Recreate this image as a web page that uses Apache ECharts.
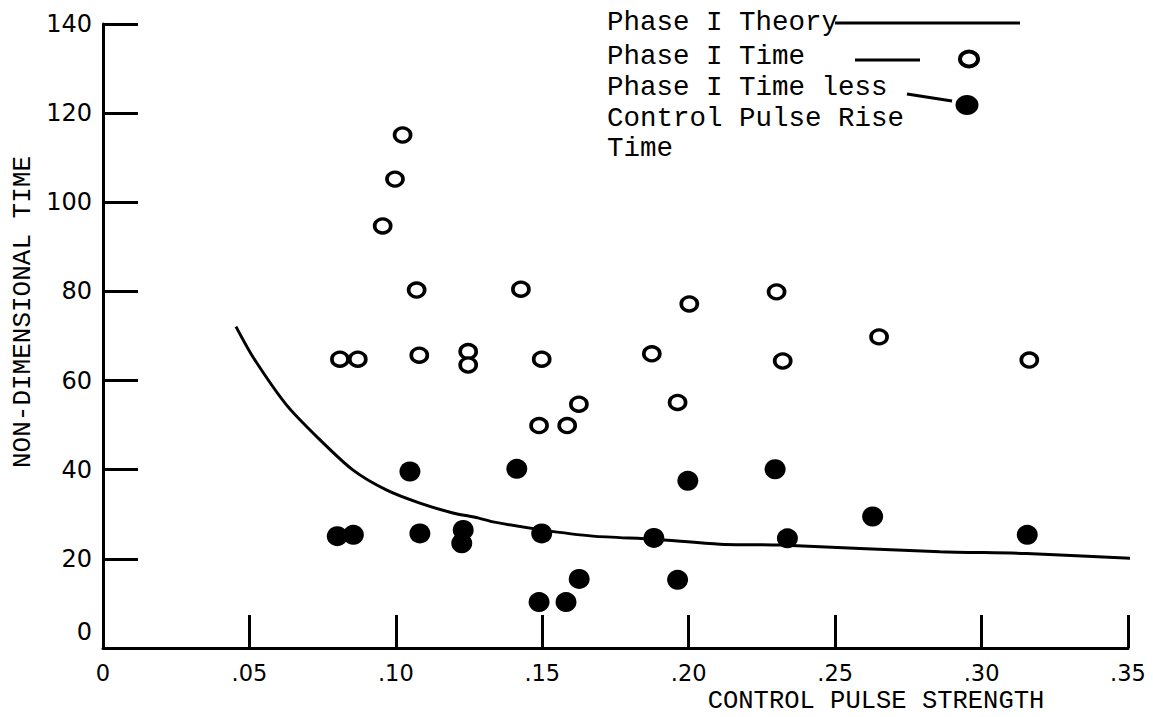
<!DOCTYPE html>
<html>
<head>
<meta charset="utf-8">
<title>Non-dimensional time vs control pulse strength</title>
<script src="https://cdn.jsdelivr.net/npm/echarts@6.0.0/dist/echarts.min.js"></script>
<style>
html, body { margin: 0; padding: 0; background: #fff; }
#chart { width: 1153px; height: 717px; }
</style>
</head>
<body>
<div id="chart"></div>
<script>

// tick labels
let xTickLabels = ['0', '.05', '.10', '.15', '.20', '.25', '.30', '.35'];
let yTickLabels = ['0', '20', '40', '60', '80', '100', '120', '140'];

// Phase I Time (open circles)
let timeX = [0.0809, 0.0870, 0.0955, 0.0997, 0.1023, 0.1071, 0.1080, 0.1247, 0.1247, 0.1427, 0.1498,
             0.1489, 0.1585, 0.1625, 0.1874, 0.1962, 0.2002, 0.2300, 0.2321, 0.2650, 0.3163];
let timeY = [64.8, 64.8, 94.7, 105.2, 115.1, 80.3, 65.7, 66.5, 63.5, 80.5, 64.8,
             49.9, 49.9, 54.7, 66.0, 55.1, 77.2, 79.9, 64.4, 69.8, 64.6];

// Phase I Time less Control Pulse Rise Time (filled circles)
let lessX = [0.0800, 0.0855, 0.1048, 0.1082, 0.1230, 0.1225, 0.1413, 0.1498, 0.1489, 0.1581,
             0.1626, 0.1881, 0.1962, 0.1997, 0.2295, 0.2337, 0.2628, 0.3156];
let lessY = [25.1, 25.4, 39.6, 25.7, 26.5, 23.5, 40.2, 25.7, 10.3, 10.3,
             15.5, 24.7, 15.3, 37.5, 40.1, 24.6, 29.5, 25.4];

// Phase I Theory curve
let theoryX = [0.0454, 0.0512, 0.0627, 0.0741, 0.0854, 0.0969, 0.1082, 0.1195, 0.1280, 0.1332,
               0.1498, 0.1673, 0.1881, 0.2106, 0.2312, 0.2858, 0.3154, 0.3524];
let theoryY = [72.1, 65.3, 54.5, 46.7, 39.9, 35.4, 32.5, 30.3, 29.2, 28.3,
               26.5, 25.1, 24.4, 23.3, 23.1, 21.6, 21.2, 20.1];

let seriesNames = ['Phase I Theory', 'Phase I Time', 'Phase I Time less Control Pulse Rise Time'];

function pairUp(xs, ys) {
    let out = [];
    for (let i = 0; i < xs.length; i++) {
        out.push([xs[i], ys[i]]);
    }
    return out;
}

let typeFont = '"Liberation Mono", monospace';
let numFont = '"DejaVu Sans", sans-serif';

function legendGraphics() {
    // hand-lettered legend in the upper right
    let lines = ['Phase I Theory', 'Phase I Time', 'Phase I Time less', 'Control Pulse Rise', 'Time'];
    let ys = [23, 57, 88, 119, 149];
    let g = [];
    for (let i = 0; i < lines.length; i++) {
        g.push({
            type: 'text',
            left: 607,
            top: ys[i] - 15,
            style: { text: lines[i], font: '27.5px ' + typeFont, fill: '#000' }
        });
    }
    g.push({ type: 'line', shape: { x1: 835, y1: 23, x2: 1020, y2: 23 }, style: { stroke: '#000', lineWidth: 3 } });
    g.push({ type: 'line', shape: { x1: 855, y1: 60, x2: 920, y2: 60 }, style: { stroke: '#000', lineWidth: 3 } });
    g.push({ type: 'ellipse', shape: { cx: 969, cy: 59, rx: 9, ry: 7.5 }, style: { fill: '#fff', stroke: '#000', lineWidth: 4 } });
    g.push({ type: 'line', shape: { x1: 907, y1: 94, x2: 952, y2: 101 }, style: { stroke: '#000', lineWidth: 3 } });
    g.push({ type: 'ellipse', shape: { cx: 967, cy: 105, rx: 11.5, ry: 10 }, style: { fill: '#000' } });
    return g;
}

function printChart(chartID) {
    let myChart = echarts.init(document.getElementById(chartID), null, { renderer: 'svg' });

    let option = {
        backgroundColor: '#fff',
        animation: false,
        grid: { left: 103, right: 25, top: 24, bottom: 69, containLabel: false, outerBoundsMode: 'none' },
        xAxis: {
            type: 'value',
            min: 0,
            max: 0.35,
            interval: 0.05,
            name: 'CONTROL PULSE STRENGTH',
            nameLocation: 'middle',
            nameGap: 40,
            nameMoveOverlap: false,
            nameTextStyle: { fontFamily: typeFont, fontSize: 25.5, lineHeight: 26, color: '#000', padding: [0, 0, 0, 521] },
            axisLine: { onZero: false, lineStyle: { color: '#000', width: 3 } },
            axisTick: { inside: true, length: 33, lineStyle: { color: '#000', width: 3 } },
            axisLabel: {
                margin: 14,
                color: '#000',
                fontFamily: numFont,
                fontSize: 22.5,
                lineHeight: 22,
                formatter: function (v) { return xTickLabels[Math.round(v / 0.05)]; }
            },
            splitLine: { show: false }
        },
        yAxis: {
            type: 'value',
            min: 0,
            max: 140,
            interval: 20,
            name: 'NON-DIMENSIONAL TIME',
            nameLocation: 'middle',
            nameGap: 67,
            nameMoveOverlap: false,
            nameTextStyle: { fontFamily: typeFont, fontSize: 26, color: '#000', padding: [0, 0, 0, 48] },
            axisLine: { onZero: false, lineStyle: { color: '#000', width: 3 } },
            axisTick: { inside: true, length: 35, lineStyle: { color: '#000', width: 3 } },
            axisLabel: {
                margin: 11,
                color: '#000',
                fontFamily: numFont,
                fontSize: 24,
                formatter: function (v) {
                    let s = yTickLabels[Math.round(v / 20)];
                    return v === 0 ? '{z|' + s + '}' : s;
                },
                rich: { z: { fontFamily: numFont, fontSize: 24, color: '#000', padding: [0, 0, 32, 0] } }
            },
            splitLine: { show: false }
        },
        graphic: legendGraphics(),
        series: [
            {
                name: seriesNames[0],
                type: 'line',
                smooth: 0.25,
                showSymbol: false,
                clip: false,
                lineStyle: { color: '#000', width: 3 },
                data: pairUp(theoryX, theoryY),
                z: 2
            },
            {
                name: seriesNames[1],
                type: 'scatter',
                symbol: 'circle',
                symbolSize: [16, 14],
                itemStyle: { color: '#fff', borderColor: '#000', borderWidth: 3.5, opacity: 1 },
                data: pairUp(timeX, timeY),
                z: 3
            },
            {
                name: seriesNames[2],
                type: 'scatter',
                symbol: 'circle',
                symbolSize: [21, 20],
                itemStyle: { color: '#000', opacity: 1 },
                data: pairUp(lessX, lessY),
                z: 4
            }
        ]
    };

    myChart.setOption(option);
}

printChart('chart');
</script>
</body>
</html>
